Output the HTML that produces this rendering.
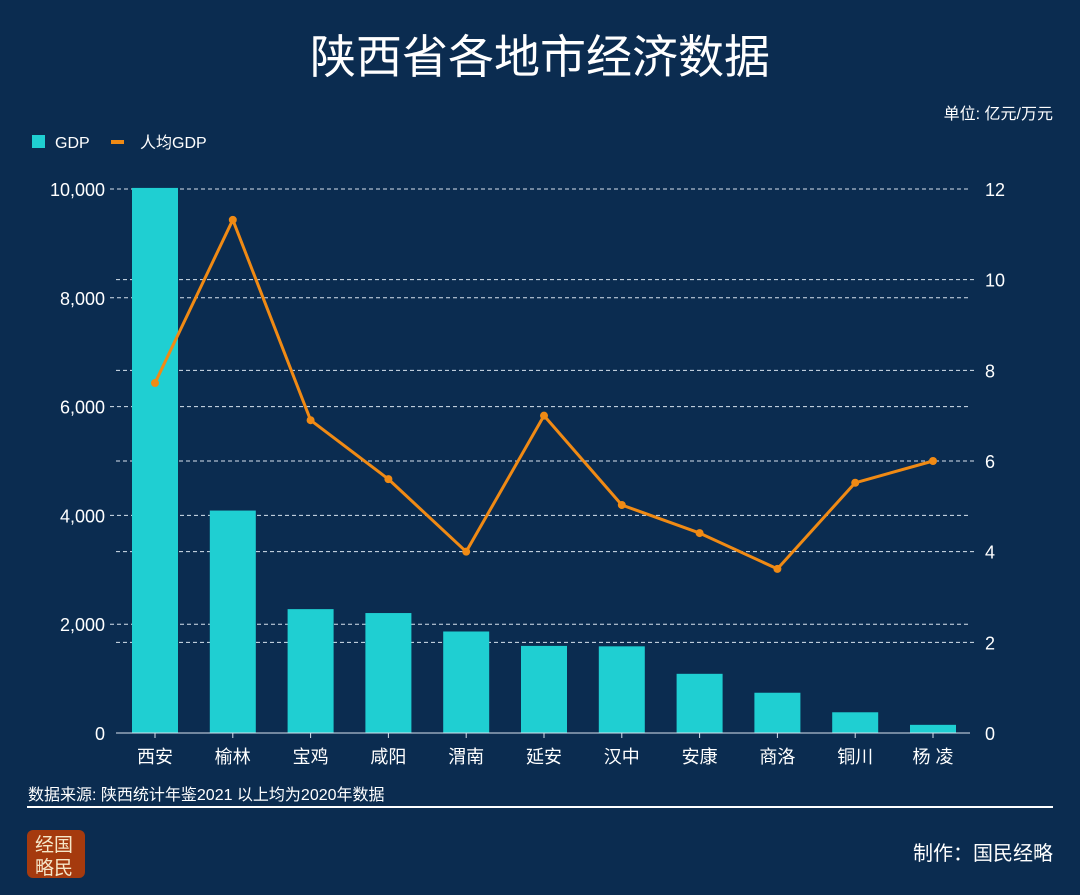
<!DOCTYPE html>
<html><head><meta charset="utf-8"><style>
html,body{margin:0;padding:0;width:1080px;height:895px;background:#0b2c50;overflow:hidden}
svg text{font-family:"Liberation Sans","Noto Sans CJK SC",sans-serif}
</style></head><body>
<svg id="c" width="1080" height="895">
<rect width="1080" height="895" fill="#0b2c50"/>
<text x="540" y="73" fill="#fff" font-size="46" text-anchor="middle">陕西省各地市经济数据</text>
<text x="1053" y="119" fill="#fff" font-size="16" text-anchor="end">单位: 亿元/万元</text>
<g>
<rect x="32" y="135" width="13" height="13" fill="#1fcfd2"/>
<text x="55" y="148" fill="#fff" font-size="16">GDP</text>
<rect x="111" y="140" width="13" height="4" fill="#f08a14"/>
<text x="140" y="148" fill="#fff" font-size="16">人均GDP</text>
</g>
<g id="grid"></g><g id="bars"></g><g id="line"></g><g id="axes"></g>
<text x="28" y="800" fill="#fff" font-size="16">数据来源: 陕西统计年鉴2021 以上均为2020年数据</text>
<rect x="27" y="806" width="1026" height="2" fill="#fff"/>
<g>
<rect x="27" y="830" width="58" height="48" rx="6" fill="#a53a0e"/>
<text x="35" y="851" fill="#f5e6c8" font-size="19" font-family="Noto Serif CJK SC,serif">经国</text>
<text x="35" y="874" fill="#f5e6c8" font-size="19" font-family="Noto Serif CJK SC,serif">略民</text>
</g>
<text x="1053" y="860" fill="#fff" font-size="20" text-anchor="end">制作：国民经略</text>
</svg>
<script>
const categories=["西安","榆林","宝鸡","咸阳","渭南","延安","汉中","安康","商洛","铜川","杨 凌"];
const gdpValues=[10020,4089,2277,2205,1866,1601,1593,1088,740,381,150];
const perCapitaValues=[7.72,11.32,6.9,5.6,4.0,7.0,5.03,4.41,3.62,5.52,6.0];
const leftTicks=[0,2000,4000,6000,8000,10000];
const leftTickLabels=["0","2,000","4,000","6,000","8,000","10,000"];
const rightTicks=[0,2,4,6,8,10,12];
const NS="http://www.w3.org/2000/svg";
const y0=733,yTop=189,x0=116,step=77.8;
const yL=v=>y0-(v/10000)*(y0-yTop);
const yR=v=>y0-(v/12)*(y0-yTop);
const xC=i=>155+i*step;
function mk(t,a,p){const e=document.createElementNS(NS,t);for(const k in a)e.setAttribute(k,a[k]);document.getElementById(p).appendChild(e);return e;}
leftTicks.forEach((v,i)=>{if(v===0)return;
 const l=mk('line',{x1:110,x2:970,y1:yL(v),y2:yL(v),stroke:'#d8e2ee','stroke-width':1,'stroke-dasharray':'4,3'},'grid');
 
 });
rightTicks.forEach(v=>{if(v===0||v===12)return;
 const l=mk('line',{x1:x0,x2:976,y1:yR(v),y2:yR(v),stroke:'#d8e2ee','stroke-width':1,'stroke-dasharray':'4,3'},'grid');
 
 });
gdpValues.forEach((v,i)=>{
 const r=mk('rect',{x:xC(i)-23,y:yL(v),width:46,height:y0-yL(v),fill:'#1fcfd2'},'bars');
 
 
 const tk=mk('line',{x1:xC(i),x2:xC(i),y1:y0,y2:y0+5,stroke:'#d8e2ee','stroke-width':1},'axes');
 
 
 const t=mk('text',{x:xC(i),y:763,fill:'#fff','font-size':18,'text-anchor':'middle'},'axes');t.textContent=categories[i];
 
 });
const pts=perCapitaValues.map((v,i)=>xC(i)+','+yR(v)).join(' ');
const pl=mk('polyline',{points:pts,fill:'none',stroke:'#f08a14','stroke-width':3,'stroke-linejoin':'round'},'line');


perCapitaValues.forEach((v,i)=>{const c=mk('circle',{cx:xC(i),cy:yR(v),r:4,fill:'#f08a14'},'line');
 
 });
const bx=mk('line',{x1:x0,x2:970,y1:y0,y2:y0,stroke:'#d8e2ee','stroke-width':1},'axes');


leftTicks.forEach((v,i)=>{const t=mk('text',{x:105,y:yL(v)+7,fill:'#fff','font-size':18,'text-anchor':'end'},'axes');t.textContent=leftTickLabels[i];
 
 });
rightTicks.forEach(v=>{const t=mk('text',{x:985,y:yR(v)+7,fill:'#fff','font-size':18},'axes');t.textContent=v;
 
 });
</script>
</body></html>
